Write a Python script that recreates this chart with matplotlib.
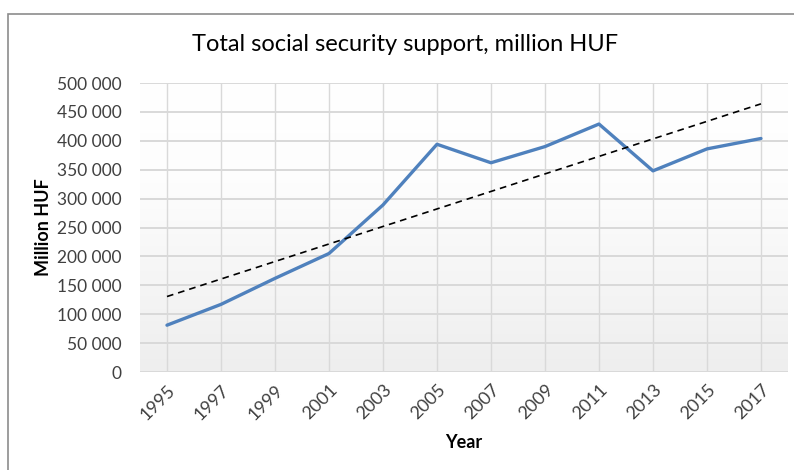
import numpy as np
import matplotlib
matplotlib.use('Agg')
import matplotlib.pyplot as plt
from matplotlib.colors import LinearSegmentedColormap
from matplotlib.patches import Rectangle

# Chart data (million HUF)
years = ['1995', '1997', '1999', '2001', '2003', '2005',
         '2007', '2009', '2011', '2013', '2015', '2017']
support = [81000, 117000, 162000, 205000, 289000, 394000,
           362000, 390000, 429000, 348000, 386000, 404000]
y_ticks = [0, 50000, 100000, 150000, 200000, 250000,
           300000, 350000, 400000, 450000, 500000]

plt.rcParams['font.family'] = ['Lato', 'DejaVu Sans']

fig = plt.figure(figsize=(7.94, 4.70), dpi=100)
ax = fig.add_axes([0.1763, 0.2085, 0.8161, 0.6149])

x = np.arange(len(years))

# Gradient plot area: white at top fading to light gray at the bottom
grad = np.linspace(0, 1, 256).reshape(-1, 1)
cmap = LinearSegmentedColormap.from_list(
    'bg', [(0, '#ffffff'), (0.35, '#fdfdfd'), (1, '#eeeeee')])
ax.imshow(grad, cmap=cmap, aspect='auto', extent=[-0.5, 11.5, 0, 500000],
          origin='upper', zorder=0, interpolation='bicubic')

# Gridlines
for v in y_ticks:
    ax.axhline(v, color='#d9d9d9', lw=1.4, zorder=1)
for xi in x:
    ax.plot([xi, xi], [0, 500000], color='#d9d9d9', lw=1.0, zorder=1)

# Data line and linear trend
ax.plot(x, support, color='#4f81bd', lw=2.4, zorder=3, solid_capstyle='round')
coef = np.polyfit(x, support, 1)
ax.plot(x, np.polyval(coef, x), color='black', lw=1.2,
        linestyle=(0, (4, 3)), zorder=4)

ax.set_xlim(-0.5, 11.5)
ax.set_ylim(0, 500000)
ax.set_xticks(x)
ax.set_xticklabels(years, rotation=45, ha='right', rotation_mode='anchor',
                   fontsize=13, color='#404040')
ax.set_yticks(y_ticks)
ax.set_yticklabels([f'{v:,}'.replace(',', ' ') for v in y_ticks],
                   fontsize=12.5, color='#404040')
ax.tick_params(length=0)
ax.tick_params(axis='y', pad=13)
ax.tick_params(axis='x', pad=7)
for s in ax.spines.values():
    s.set_visible(False)

ax.set_ylabel('Million HUF', fontsize=13, fontweight='bold', labelpad=4)
ax.set_xlabel('Year', fontsize=13, fontweight='bold', labelpad=8)

fig.text(0.51, 0.905, 'Total social security support, million HUF',
         ha='center', va='center', fontsize=17, color='black')

# Chart border
fig.patches.append(Rectangle((8 / 794, -0.1), 1.2, 1 - 14 / 470 + 0.1,
                             transform=fig.transFigure, fill=False,
                             edgecolor='#8c8c8c', lw=1.2))

fig.savefig('out.png', dpi=100)
